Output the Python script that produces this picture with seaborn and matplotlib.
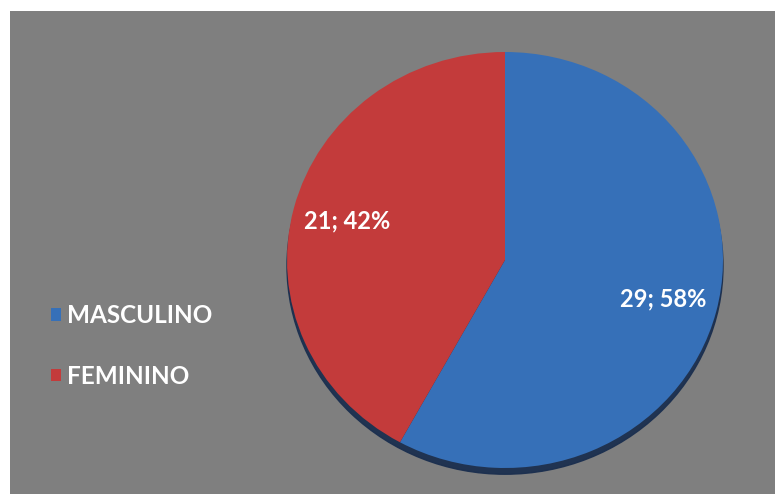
import matplotlib
matplotlib.use("Agg")
import matplotlib.pyplot as plt
import seaborn as sns
from matplotlib.patches import Ellipse

categories = ["MASCULINO", "FEMININO"]
values = [29, 21]
colors = ["#3670b8", "#c33b3b"]

sns.set_theme(style="white")
plt.rcParams['font.family'] = ['Lato', 'DejaVu Sans']
pal = sns.color_palette(colors)

W, H = 775, 494
fig = plt.figure(figsize=(W / 100, H / 100), dpi=100)
fig.patch.set_facecolor("white")

# gray background panel
bg = fig.add_axes([10 / W, 0, (W - 10) / W, (H - 11) / H])
bg.set_facecolor("#7f7f7f")
bg.set_xticks([]); bg.set_yticks([])
for s in bg.spines.values():
    s.set_visible(False)

ax = fig.add_axes([0, 0, 1, 1])
ax.patch.set_alpha(0)

cx, cy, rx, ry = 505, 260, 218, 208
total = sum(values)

def fmt(p):
    v = int(round(p * total / 100))
    return f"{v}; {p:.0f}%"

# shadow behind
ax.add_patch(Ellipse((0.0, -0.03), 2.0, 2.0, color="#1b2f4f", alpha=0.95, zorder=0))

wedges, texts, autotexts = ax.pie(
    values, colors=pal, startangle=90, counterclock=False,
    autopct=fmt, pctdistance=0.75, radius=1.0,
    textprops=dict(color="white", fontsize=17, fontweight="bold"),
    wedgeprops=dict(linewidth=0),
)
for w in wedges:
    w.set_zorder(1)
for t in autotexts:
    t.set_zorder(3)

ax.set_aspect("auto")
ax.set_xlim(-cx / rx, (W - cx) / rx)
ax.set_ylim(-(H - cy) / ry, cy / ry)
ax.axis("off")

leg = fig.legend(
    wedges, categories, loc="center left",
    bbox_to_anchor=(51 / W, (H - 346) / H), frameon=False,
    handlelength=0.42, handleheight=0.42, handletextpad=0.25,
    labelspacing=1.55, borderpad=0, borderaxespad=0,
    prop=dict(family=['Lato', 'DejaVu Sans'], weight="bold", size=17.5),
)
for t in leg.get_texts():
    t.set_color("white")

fig.savefig("out.png", dpi=100)
